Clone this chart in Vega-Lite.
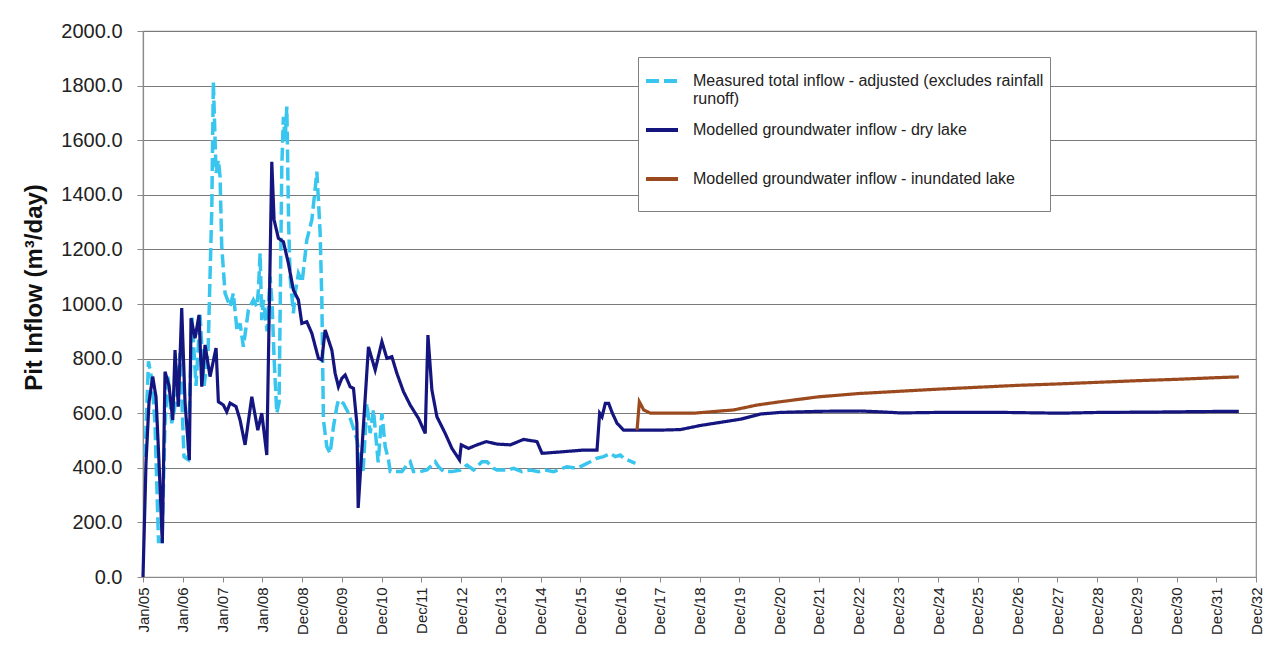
{
  "$schema": "https://vega.github.io/schema/vega-lite/v6.json",
  "autosize": {"type": "none"},
  "width": 1113,
  "height": 546,
  "padding": {"left": 143, "top": 31, "right": 15, "bottom": 81},
  "background": "white",
  "config": {
    "font": "Liberation Sans",
    "view": {"stroke": "#8a8a8a", "strokeWidth": 1.2}
  },
  "data": {
    "values": [
      {"series": "Measured total inflow - adjusted (excludes rainfall runoff)", "t": 0.050, "v": 440},
      {"series": "Measured total inflow - adjusted (excludes rainfall runoff)", "t": 0.138, "v": 790},
      {"series": "Measured total inflow - adjusted (excludes rainfall runoff)", "t": 0.227, "v": 720},
      {"series": "Measured total inflow - adjusted (excludes rainfall runoff)", "t": 0.302, "v": 560},
      {"series": "Measured total inflow - adjusted (excludes rainfall runoff)", "t": 0.390, "v": 130},
      {"series": "Measured total inflow - adjusted (excludes rainfall runoff)", "t": 0.478, "v": 130},
      {"series": "Measured total inflow - adjusted (excludes rainfall runoff)", "t": 0.554, "v": 560},
      {"series": "Measured total inflow - adjusted (excludes rainfall runoff)", "t": 0.629, "v": 740},
      {"series": "Measured total inflow - adjusted (excludes rainfall runoff)", "t": 0.723, "v": 563},
      {"series": "Measured total inflow - adjusted (excludes rainfall runoff)", "t": 0.848, "v": 660},
      {"series": "Measured total inflow - adjusted (excludes rainfall runoff)", "t": 0.932, "v": 820},
      {"series": "Measured total inflow - adjusted (excludes rainfall runoff)", "t": 1.032, "v": 440},
      {"series": "Measured total inflow - adjusted (excludes rainfall runoff)", "t": 1.133, "v": 430},
      {"series": "Measured total inflow - adjusted (excludes rainfall runoff)", "t": 1.234, "v": 950},
      {"series": "Measured total inflow - adjusted (excludes rainfall runoff)", "t": 1.334, "v": 700},
      {"series": "Measured total inflow - adjusted (excludes rainfall runoff)", "t": 1.435, "v": 960},
      {"series": "Measured total inflow - adjusted (excludes rainfall runoff)", "t": 1.536, "v": 700},
      {"series": "Measured total inflow - adjusted (excludes rainfall runoff)", "t": 1.636, "v": 820},
      {"series": "Measured total inflow - adjusted (excludes rainfall runoff)", "t": 1.730, "v": 1344},
      {"series": "Measured total inflow - adjusted (excludes rainfall runoff)", "t": 1.770, "v": 1814},
      {"series": "Measured total inflow - adjusted (excludes rainfall runoff)", "t": 1.813, "v": 1601},
      {"series": "Measured total inflow - adjusted (excludes rainfall runoff)", "t": 1.838, "v": 1480},
      {"series": "Measured total inflow - adjusted (excludes rainfall runoff)", "t": 1.896, "v": 1527},
      {"series": "Measured total inflow - adjusted (excludes rainfall runoff)", "t": 1.939, "v": 1466},
      {"series": "Measured total inflow - adjusted (excludes rainfall runoff)", "t": 1.981, "v": 1210},
      {"series": "Measured total inflow - adjusted (excludes rainfall runoff)", "t": 2.064, "v": 1040},
      {"series": "Measured total inflow - adjusted (excludes rainfall runoff)", "t": 2.190, "v": 990},
      {"series": "Measured total inflow - adjusted (excludes rainfall runoff)", "t": 2.273, "v": 1039},
      {"series": "Measured total inflow - adjusted (excludes rainfall runoff)", "t": 2.367, "v": 900},
      {"series": "Measured total inflow - adjusted (excludes rainfall runoff)", "t": 2.442, "v": 929},
      {"series": "Measured total inflow - adjusted (excludes rainfall runoff)", "t": 2.525, "v": 843},
      {"series": "Measured total inflow - adjusted (excludes rainfall runoff)", "t": 2.651, "v": 978},
      {"series": "Measured total inflow - adjusted (excludes rainfall runoff)", "t": 2.777, "v": 1015},
      {"series": "Measured total inflow - adjusted (excludes rainfall runoff)", "t": 2.863, "v": 990},
      {"series": "Measured total inflow - adjusted (excludes rainfall runoff)", "t": 2.903, "v": 1051},
      {"series": "Measured total inflow - adjusted (excludes rainfall runoff)", "t": 2.946, "v": 1186},
      {"series": "Measured total inflow - adjusted (excludes rainfall runoff)", "t": 2.988, "v": 941},
      {"series": "Measured total inflow - adjusted (excludes rainfall runoff)", "t": 3.029, "v": 1015},
      {"series": "Measured total inflow - adjusted (excludes rainfall runoff)", "t": 3.122, "v": 900},
      {"series": "Measured total inflow - adjusted (excludes rainfall runoff)", "t": 3.197, "v": 1100},
      {"series": "Measured total inflow - adjusted (excludes rainfall runoff)", "t": 3.248, "v": 1000},
      {"series": "Measured total inflow - adjusted (excludes rainfall runoff)", "t": 3.298, "v": 800},
      {"series": "Measured total inflow - adjusted (excludes rainfall runoff)", "t": 3.366, "v": 600},
      {"series": "Measured total inflow - adjusted (excludes rainfall runoff)", "t": 3.424, "v": 640},
      {"series": "Measured total inflow - adjusted (excludes rainfall runoff)", "t": 3.492, "v": 1503},
      {"series": "Measured total inflow - adjusted (excludes rainfall runoff)", "t": 3.532, "v": 1686},
      {"series": "Measured total inflow - adjusted (excludes rainfall runoff)", "t": 3.575, "v": 1600},
      {"series": "Measured total inflow - adjusted (excludes rainfall runoff)", "t": 3.618, "v": 1723},
      {"series": "Measured total inflow - adjusted (excludes rainfall runoff)", "t": 3.663, "v": 1300},
      {"series": "Measured total inflow - adjusted (excludes rainfall runoff)", "t": 3.701, "v": 1100},
      {"series": "Measured total inflow - adjusted (excludes rainfall runoff)", "t": 3.784, "v": 966},
      {"series": "Measured total inflow - adjusted (excludes rainfall runoff)", "t": 3.827, "v": 1039},
      {"series": "Measured total inflow - adjusted (excludes rainfall runoff)", "t": 3.910, "v": 1112},
      {"series": "Measured total inflow - adjusted (excludes rainfall runoff)", "t": 4.003, "v": 1080},
      {"series": "Measured total inflow - adjusted (excludes rainfall runoff)", "t": 4.121, "v": 1234},
      {"series": "Measured total inflow - adjusted (excludes rainfall runoff)", "t": 4.247, "v": 1308},
      {"series": "Measured total inflow - adjusted (excludes rainfall runoff)", "t": 4.330, "v": 1420},
      {"series": "Measured total inflow - adjusted (excludes rainfall runoff)", "t": 4.373, "v": 1485},
      {"series": "Measured total inflow - adjusted (excludes rainfall runoff)", "t": 4.413, "v": 1381},
      {"series": "Measured total inflow - adjusted (excludes rainfall runoff)", "t": 4.456, "v": 1260},
      {"series": "Measured total inflow - adjusted (excludes rainfall runoff)", "t": 4.499, "v": 1015},
      {"series": "Measured total inflow - adjusted (excludes rainfall runoff)", "t": 4.539, "v": 575},
      {"series": "Measured total inflow - adjusted (excludes rainfall runoff)", "t": 4.625, "v": 477},
      {"series": "Measured total inflow - adjusted (excludes rainfall runoff)", "t": 4.708, "v": 453},
      {"series": "Measured total inflow - adjusted (excludes rainfall runoff)", "t": 4.791, "v": 550},
      {"series": "Measured total inflow - adjusted (excludes rainfall runoff)", "t": 4.877, "v": 624},
      {"series": "Measured total inflow - adjusted (excludes rainfall runoff)", "t": 4.917, "v": 648},
      {"series": "Measured total inflow - adjusted (excludes rainfall runoff)", "t": 5.043, "v": 636},
      {"series": "Measured total inflow - adjusted (excludes rainfall runoff)", "t": 5.169, "v": 600},
      {"series": "Measured total inflow - adjusted (excludes rainfall runoff)", "t": 5.295, "v": 545},
      {"series": "Measured total inflow - adjusted (excludes rainfall runoff)", "t": 5.388, "v": 500},
      {"series": "Measured total inflow - adjusted (excludes rainfall runoff)", "t": 5.463, "v": 420},
      {"series": "Measured total inflow - adjusted (excludes rainfall runoff)", "t": 5.539, "v": 390},
      {"series": "Measured total inflow - adjusted (excludes rainfall runoff)", "t": 5.632, "v": 636},
      {"series": "Measured total inflow - adjusted (excludes rainfall runoff)", "t": 5.715, "v": 527},
      {"series": "Measured total inflow - adjusted (excludes rainfall runoff)", "t": 5.798, "v": 612},
      {"series": "Measured total inflow - adjusted (excludes rainfall runoff)", "t": 5.916, "v": 420},
      {"series": "Measured total inflow - adjusted (excludes rainfall runoff)", "t": 6.010, "v": 600},
      {"series": "Measured total inflow - adjusted (excludes rainfall runoff)", "t": 6.093, "v": 477},
      {"series": "Measured total inflow - adjusted (excludes rainfall runoff)", "t": 6.176, "v": 429},
      {"series": "Measured total inflow - adjusted (excludes rainfall runoff)", "t": 6.219, "v": 386},
      {"series": "Measured total inflow - adjusted (excludes rainfall runoff)", "t": 6.344, "v": 386},
      {"series": "Measured total inflow - adjusted (excludes rainfall runoff)", "t": 6.513, "v": 386},
      {"series": "Measured total inflow - adjusted (excludes rainfall runoff)", "t": 6.639, "v": 410},
      {"series": "Measured total inflow - adjusted (excludes rainfall runoff)", "t": 6.722, "v": 422},
      {"series": "Measured total inflow - adjusted (excludes rainfall runoff)", "t": 6.805, "v": 386},
      {"series": "Measured total inflow - adjusted (excludes rainfall runoff)", "t": 6.974, "v": 386},
      {"series": "Measured total inflow - adjusted (excludes rainfall runoff)", "t": 7.142, "v": 392},
      {"series": "Measured total inflow - adjusted (excludes rainfall runoff)", "t": 7.226, "v": 404},
      {"series": "Measured total inflow - adjusted (excludes rainfall runoff)", "t": 7.351, "v": 422},
      {"series": "Measured total inflow - adjusted (excludes rainfall runoff)", "t": 7.434, "v": 404},
      {"series": "Measured total inflow - adjusted (excludes rainfall runoff)", "t": 7.560, "v": 386},
      {"series": "Measured total inflow - adjusted (excludes rainfall runoff)", "t": 7.772, "v": 386},
      {"series": "Measured total inflow - adjusted (excludes rainfall runoff)", "t": 7.981, "v": 392},
      {"series": "Measured total inflow - adjusted (excludes rainfall runoff)", "t": 8.150, "v": 410},
      {"series": "Measured total inflow - adjusted (excludes rainfall runoff)", "t": 8.316, "v": 392},
      {"series": "Measured total inflow - adjusted (excludes rainfall runoff)", "t": 8.527, "v": 422},
      {"series": "Measured total inflow - adjusted (excludes rainfall runoff)", "t": 8.653, "v": 422},
      {"series": "Measured total inflow - adjusted (excludes rainfall runoff)", "t": 8.819, "v": 398},
      {"series": "Measured total inflow - adjusted (excludes rainfall runoff)", "t": 8.905, "v": 392},
      {"series": "Measured total inflow - adjusted (excludes rainfall runoff)", "t": 9.157, "v": 392},
      {"series": "Measured total inflow - adjusted (excludes rainfall runoff)", "t": 9.323, "v": 398},
      {"series": "Measured total inflow - adjusted (excludes rainfall runoff)", "t": 9.534, "v": 386},
      {"series": "Measured total inflow - adjusted (excludes rainfall runoff)", "t": 9.743, "v": 392},
      {"series": "Measured total inflow - adjusted (excludes rainfall runoff)", "t": 9.952, "v": 386},
      {"series": "Measured total inflow - adjusted (excludes rainfall runoff)", "t": 10.121, "v": 392},
      {"series": "Measured total inflow - adjusted (excludes rainfall runoff)", "t": 10.330, "v": 386},
      {"series": "Measured total inflow - adjusted (excludes rainfall runoff)", "t": 10.667, "v": 404},
      {"series": "Measured total inflow - adjusted (excludes rainfall runoff)", "t": 10.919, "v": 398},
      {"series": "Measured total inflow - adjusted (excludes rainfall runoff)", "t": 11.085, "v": 410},
      {"series": "Measured total inflow - adjusted (excludes rainfall runoff)", "t": 11.254, "v": 422},
      {"series": "Measured total inflow - adjusted (excludes rainfall runoff)", "t": 11.422, "v": 435},
      {"series": "Measured total inflow - adjusted (excludes rainfall runoff)", "t": 11.589, "v": 441},
      {"series": "Measured total inflow - adjusted (excludes rainfall runoff)", "t": 11.757, "v": 453},
      {"series": "Measured total inflow - adjusted (excludes rainfall runoff)", "t": 11.883, "v": 441},
      {"series": "Measured total inflow - adjusted (excludes rainfall runoff)", "t": 12.009, "v": 447},
      {"series": "Measured total inflow - adjusted (excludes rainfall runoff)", "t": 12.092, "v": 435},
      {"series": "Measured total inflow - adjusted (excludes rainfall runoff)", "t": 12.387, "v": 416},

      {"series": "Modelled groundwater inflow - dry lake", "t": 0.000, "v": 0},
      {"series": "Modelled groundwater inflow - dry lake", "t": 0.076, "v": 420},
      {"series": "Modelled groundwater inflow - dry lake", "t": 0.151, "v": 640},
      {"series": "Modelled groundwater inflow - dry lake", "t": 0.244, "v": 734},
      {"series": "Modelled groundwater inflow - dry lake", "t": 0.327, "v": 660},
      {"series": "Modelled groundwater inflow - dry lake", "t": 0.403, "v": 420},
      {"series": "Modelled groundwater inflow - dry lake", "t": 0.486, "v": 124},
      {"series": "Modelled groundwater inflow - dry lake", "t": 0.554, "v": 752},
      {"series": "Modelled groundwater inflow - dry lake", "t": 0.655, "v": 700},
      {"series": "Modelled groundwater inflow - dry lake", "t": 0.748, "v": 575},
      {"series": "Modelled groundwater inflow - dry lake", "t": 0.806, "v": 831},
      {"series": "Modelled groundwater inflow - dry lake", "t": 0.889, "v": 624},
      {"series": "Modelled groundwater inflow - dry lake", "t": 0.974, "v": 985},
      {"series": "Modelled groundwater inflow - dry lake", "t": 1.057, "v": 640},
      {"series": "Modelled groundwater inflow - dry lake", "t": 1.166, "v": 428},
      {"series": "Modelled groundwater inflow - dry lake", "t": 1.208, "v": 948},
      {"series": "Modelled groundwater inflow - dry lake", "t": 1.309, "v": 875},
      {"series": "Modelled groundwater inflow - dry lake", "t": 1.410, "v": 960},
      {"series": "Modelled groundwater inflow - dry lake", "t": 1.478, "v": 697},
      {"series": "Modelled groundwater inflow - dry lake", "t": 1.561, "v": 850},
      {"series": "Modelled groundwater inflow - dry lake", "t": 1.687, "v": 734},
      {"series": "Modelled groundwater inflow - dry lake", "t": 1.838, "v": 839},
      {"series": "Modelled groundwater inflow - dry lake", "t": 1.896, "v": 642},
      {"series": "Modelled groundwater inflow - dry lake", "t": 2.022, "v": 630},
      {"series": "Modelled groundwater inflow - dry lake", "t": 2.107, "v": 605},
      {"series": "Modelled groundwater inflow - dry lake", "t": 2.190, "v": 637},
      {"series": "Modelled groundwater inflow - dry lake", "t": 2.341, "v": 624},
      {"series": "Modelled groundwater inflow - dry lake", "t": 2.442, "v": 575},
      {"series": "Modelled groundwater inflow - dry lake", "t": 2.568, "v": 484},
      {"series": "Modelled groundwater inflow - dry lake", "t": 2.737, "v": 660},
      {"series": "Modelled groundwater inflow - dry lake", "t": 2.888, "v": 538},
      {"series": "Modelled groundwater inflow - dry lake", "t": 2.988, "v": 600},
      {"series": "Modelled groundwater inflow - dry lake", "t": 3.114, "v": 447},
      {"series": "Modelled groundwater inflow - dry lake", "t": 3.240, "v": 1521},
      {"series": "Modelled groundwater inflow - dry lake", "t": 3.298, "v": 1308},
      {"series": "Modelled groundwater inflow - dry lake", "t": 3.406, "v": 1241},
      {"series": "Modelled groundwater inflow - dry lake", "t": 3.532, "v": 1228},
      {"series": "Modelled groundwater inflow - dry lake", "t": 3.658, "v": 1149},
      {"series": "Modelled groundwater inflow - dry lake", "t": 3.784, "v": 1051},
      {"series": "Modelled groundwater inflow - dry lake", "t": 3.910, "v": 1015},
      {"series": "Modelled groundwater inflow - dry lake", "t": 3.995, "v": 929},
      {"series": "Modelled groundwater inflow - dry lake", "t": 4.121, "v": 935},
      {"series": "Modelled groundwater inflow - dry lake", "t": 4.247, "v": 893},
      {"series": "Modelled groundwater inflow - dry lake", "t": 4.413, "v": 801},
      {"series": "Modelled groundwater inflow - dry lake", "t": 4.499, "v": 795},
      {"series": "Modelled groundwater inflow - dry lake", "t": 4.582, "v": 905},
      {"series": "Modelled groundwater inflow - dry lake", "t": 4.751, "v": 831},
      {"series": "Modelled groundwater inflow - dry lake", "t": 4.834, "v": 746},
      {"series": "Modelled groundwater inflow - dry lake", "t": 4.917, "v": 697},
      {"series": "Modelled groundwater inflow - dry lake", "t": 5.003, "v": 728},
      {"series": "Modelled groundwater inflow - dry lake", "t": 5.086, "v": 740},
      {"series": "Modelled groundwater inflow - dry lake", "t": 5.211, "v": 697},
      {"series": "Modelled groundwater inflow - dry lake", "t": 5.295, "v": 691},
      {"series": "Modelled groundwater inflow - dry lake", "t": 5.380, "v": 563},
      {"series": "Modelled groundwater inflow - dry lake", "t": 5.413, "v": 253},
      {"series": "Modelled groundwater inflow - dry lake", "t": 5.672, "v": 843},
      {"series": "Modelled groundwater inflow - dry lake", "t": 5.841, "v": 758},
      {"series": "Modelled groundwater inflow - dry lake", "t": 6.010, "v": 862},
      {"series": "Modelled groundwater inflow - dry lake", "t": 6.135, "v": 801},
      {"series": "Modelled groundwater inflow - dry lake", "t": 6.261, "v": 807},
      {"series": "Modelled groundwater inflow - dry lake", "t": 6.387, "v": 746},
      {"series": "Modelled groundwater inflow - dry lake", "t": 6.553, "v": 679},
      {"series": "Modelled groundwater inflow - dry lake", "t": 6.722, "v": 630},
      {"series": "Modelled groundwater inflow - dry lake", "t": 6.931, "v": 581},
      {"series": "Modelled groundwater inflow - dry lake", "t": 7.100, "v": 526},
      {"series": "Modelled groundwater inflow - dry lake", "t": 7.168, "v": 886},
      {"series": "Modelled groundwater inflow - dry lake", "t": 7.268, "v": 685},
      {"series": "Modelled groundwater inflow - dry lake", "t": 7.394, "v": 587},
      {"series": "Modelled groundwater inflow - dry lake", "t": 7.603, "v": 526},
      {"series": "Modelled groundwater inflow - dry lake", "t": 7.772, "v": 471},
      {"series": "Modelled groundwater inflow - dry lake", "t": 7.963, "v": 429},
      {"series": "Modelled groundwater inflow - dry lake", "t": 8.006, "v": 484},
      {"series": "Modelled groundwater inflow - dry lake", "t": 8.190, "v": 471},
      {"series": "Modelled groundwater inflow - dry lake", "t": 8.401, "v": 484},
      {"series": "Modelled groundwater inflow - dry lake", "t": 8.635, "v": 496},
      {"series": "Modelled groundwater inflow - dry lake", "t": 8.905, "v": 487},
      {"series": "Modelled groundwater inflow - dry lake", "t": 9.240, "v": 484},
      {"series": "Modelled groundwater inflow - dry lake", "t": 9.574, "v": 504},
      {"series": "Modelled groundwater inflow - dry lake", "t": 9.912, "v": 496},
      {"series": "Modelled groundwater inflow - dry lake", "t": 10.038, "v": 453},
      {"series": "Modelled groundwater inflow - dry lake", "t": 10.582, "v": 459},
      {"series": "Modelled groundwater inflow - dry lake", "t": 11.085, "v": 465},
      {"series": "Modelled groundwater inflow - dry lake", "t": 11.422, "v": 465},
      {"series": "Modelled groundwater inflow - dry lake", "t": 11.488, "v": 600},
      {"series": "Modelled groundwater inflow - dry lake", "t": 11.548, "v": 587},
      {"series": "Modelled groundwater inflow - dry lake", "t": 11.631, "v": 636},
      {"series": "Modelled groundwater inflow - dry lake", "t": 11.715, "v": 636},
      {"series": "Modelled groundwater inflow - dry lake", "t": 11.808, "v": 600},
      {"series": "Modelled groundwater inflow - dry lake", "t": 11.926, "v": 563},
      {"series": "Modelled groundwater inflow - dry lake", "t": 12.092, "v": 538},
      {"series": "Modelled groundwater inflow - dry lake", "t": 13.016, "v": 538},
      {"series": "Modelled groundwater inflow - dry lake", "t": 13.520, "v": 540},
      {"series": "Modelled groundwater inflow - dry lake", "t": 14.023, "v": 555},
      {"series": "Modelled groundwater inflow - dry lake", "t": 15.030, "v": 578},
      {"series": "Modelled groundwater inflow - dry lake", "t": 15.534, "v": 597},
      {"series": "Modelled groundwater inflow - dry lake", "t": 16.037, "v": 603},
      {"series": "Modelled groundwater inflow - dry lake", "t": 17.044, "v": 607},
      {"series": "Modelled groundwater inflow - dry lake", "t": 18.051, "v": 608},
      {"series": "Modelled groundwater inflow - dry lake", "t": 18.555, "v": 605},
      {"series": "Modelled groundwater inflow - dry lake", "t": 19.058, "v": 601},
      {"series": "Modelled groundwater inflow - dry lake", "t": 20.065, "v": 603},
      {"series": "Modelled groundwater inflow - dry lake", "t": 21.576, "v": 603},
      {"series": "Modelled groundwater inflow - dry lake", "t": 23.086, "v": 600},
      {"series": "Modelled groundwater inflow - dry lake", "t": 24.094, "v": 603},
      {"series": "Modelled groundwater inflow - dry lake", "t": 25.352, "v": 604},
      {"series": "Modelled groundwater inflow - dry lake", "t": 26.611, "v": 606},
      {"series": "Modelled groundwater inflow - dry lake", "t": 27.568, "v": 607},

      {"series": "Modelled groundwater inflow - inundated lake", "t": 12.429, "v": 538},
      {"series": "Modelled groundwater inflow - inundated lake", "t": 12.487, "v": 642},
      {"series": "Modelled groundwater inflow - inundated lake", "t": 12.596, "v": 612},
      {"series": "Modelled groundwater inflow - inundated lake", "t": 12.764, "v": 600},
      {"series": "Modelled groundwater inflow - inundated lake", "t": 13.855, "v": 600},
      {"series": "Modelled groundwater inflow - inundated lake", "t": 14.862, "v": 612},
      {"series": "Modelled groundwater inflow - inundated lake", "t": 15.451, "v": 630},
      {"series": "Modelled groundwater inflow - inundated lake", "t": 16.037, "v": 642},
      {"series": "Modelled groundwater inflow - inundated lake", "t": 16.994, "v": 660},
      {"series": "Modelled groundwater inflow - inundated lake", "t": 18.001, "v": 672},
      {"series": "Modelled groundwater inflow - inundated lake", "t": 18.998, "v": 680},
      {"series": "Modelled groundwater inflow - inundated lake", "t": 19.990, "v": 688},
      {"series": "Modelled groundwater inflow - inundated lake", "t": 20.997, "v": 695},
      {"series": "Modelled groundwater inflow - inundated lake", "t": 21.996, "v": 702},
      {"series": "Modelled groundwater inflow - inundated lake", "t": 22.985, "v": 707},
      {"series": "Modelled groundwater inflow - inundated lake", "t": 23.993, "v": 713},
      {"series": "Modelled groundwater inflow - inundated lake", "t": 24.990, "v": 719},
      {"series": "Modelled groundwater inflow - inundated lake", "t": 25.982, "v": 724},
      {"series": "Modelled groundwater inflow - inundated lake", "t": 26.989, "v": 730},
      {"series": "Modelled groundwater inflow - inundated lake", "t": 27.568, "v": 733}
    ]
  },
  "encoding": {
    "x": {
      "field": "t",
      "type": "quantitative",
      "scale": {"domain": [0, 28], "nice": false, "zero": false},
      "axis": {
        "title": null,
        "values": [0,1,2,3,4,5,6,7,8,9,10,11,12,13,14,15,16,17,18,19,20,21,22,23,24,25,26,27,28],
        "labelExpr": "['Jan/05','Jan/06','Jan/07','Jan/08','Dec/08','Dec/09','Dec/10','Dec/11','Dec/12','Dec/13','Dec/14','Dec/15','Dec/16','Dec/17','Dec/18','Dec/19','Dec/20','Dec/21','Dec/22','Dec/23','Dec/24','Dec/25','Dec/26','Dec/27','Dec/28','Dec/29','Dec/30','Dec/31','Dec/32'][datum.value]",
        "labelAngle": -90,
        "labelFontSize": 15,
        "labelColor": "#222222",
        "labelPadding": 5,
        "labelFlush": false,
        "labelOverlap": false,
        "tickSize": 5,
        "tickColor": "#8a8a8a",
        "domainColor": "#8a8a8a",
        "domainWidth": 1.2,
        "grid": false
      }
    },
    "y": {
      "field": "v",
      "type": "quantitative",
      "scale": {"domain": [0, 2000], "nice": false},
      "axis": {
        "title": "Pit Inflow (m³/day)",
        "titleFontSize": 24,
        "titleFontWeight": "bold",
        "titleColor": "#111111",
        "titlePadding": 14,
        "titleY": 256,
        "values": [0,200,400,600,800,1000,1200,1400,1600,1800,2000],
        "format": ".1f",
        "labelFontSize": 20,
        "labelColor": "#222222",
        "labelPadding": 15,
        "tickSize": 6,
        "tickColor": "#8a8a8a",
        "domainColor": "#8a8a8a",
        "domainWidth": 1.2,
        "grid": true,
        "gridColor": "#7a7a7a",
        "gridWidth": 1.2
      }
    },
    "color": {
      "field": "series",
      "type": "nominal",
      "scale": {
        "domain": ["Measured total inflow - adjusted (excludes rainfall runoff)", "Modelled groundwater inflow - dry lake", "Modelled groundwater inflow - inundated lake"],
        "range": ["#38c6ef", "#15157f", "#9a4a1e"]
      },
      "legend": {
        "title": null,
        "orient": "none",
        "legendX": 495,
        "legendY": 26,
        "direction": "vertical",
        "fillColor": "white",
        "strokeColor": "#808080",
        "padding": 6,
        "symbolType": "stroke",
        "symbolSize": 1024,
        "symbolStrokeWidth": 4,
        "labelFontSize": 16,
        "labelColor": "#222222",
        "labelLimit": 500,
        "labelOffset": 13,
        "rowPadding": 5,
        "labelExpr": "datum.label == 'Measured total inflow - adjusted (excludes rainfall runoff)' ? ['Measured total inflow - adjusted (excludes rainfall', 'runoff)'] : [datum.label, ' ']"
      }
    },
    "strokeDash": {
      "field": "series",
      "type": "nominal",
      "scale": {
        "domain": ["Measured total inflow - adjusted (excludes rainfall runoff)", "Modelled groundwater inflow - dry lake", "Modelled groundwater inflow - inundated lake"],
        "range": [[13, 5], [1, 0], [1, 0]]
      },
      "legend": null
    }
  },
  "layer": [
    {
      "transform": [{"filter": "datum.series == 'Measured total inflow - adjusted (excludes rainfall runoff)'"}],
      "mark": {"type": "line", "strokeWidth": 3.5}
    },
    {
      "transform": [{"filter": "datum.series == 'Modelled groundwater inflow - dry lake'"}],
      "mark": {"type": "line", "strokeWidth": 3.2}
    },
    {
      "transform": [{"filter": "datum.series == 'Modelled groundwater inflow - inundated lake'"}],
      "mark": {"type": "line", "strokeWidth": 3.2}
    }
  ]
}
